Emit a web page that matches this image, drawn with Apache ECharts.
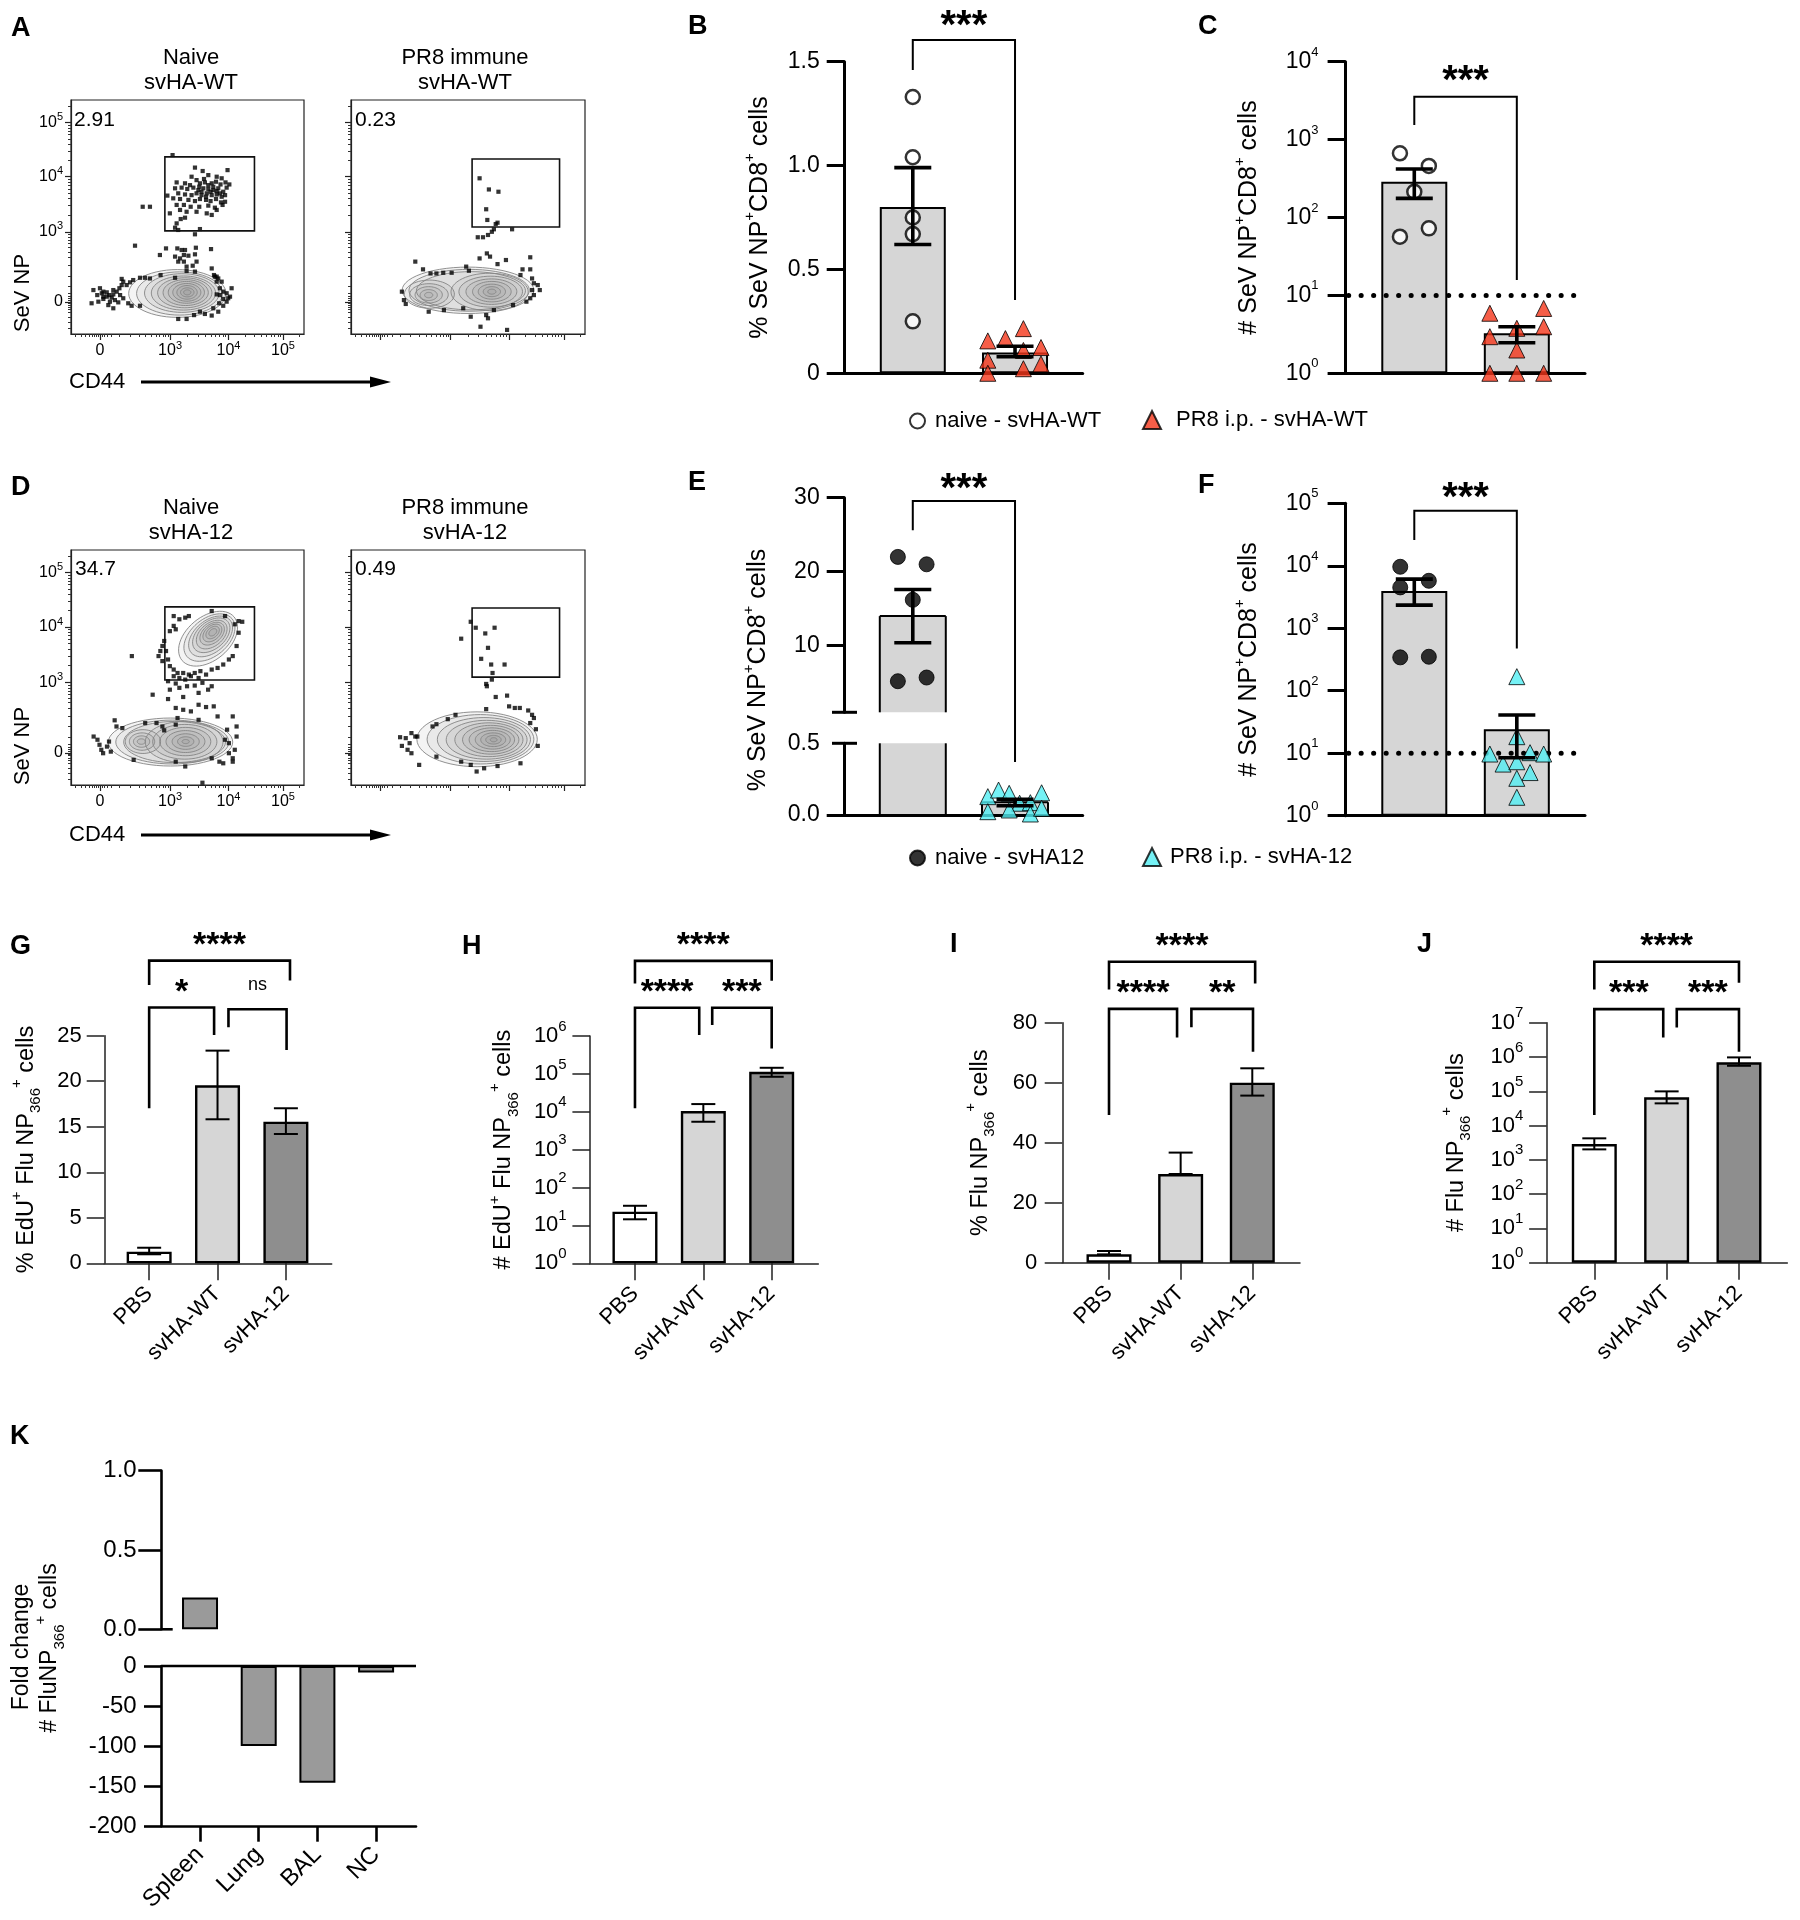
<!DOCTYPE html>
<html>
<head>
<meta charset="utf-8">
<title>Figure</title>
<script src="https://cdn.jsdelivr.net/npm/echarts@6.0.0/dist/echarts.min.js"></script>
<style>
html,body{margin:0;padding:0;background:#fff;}
#chart{width:1800px;height:1920px;}
</style>
</head>
<body>
<div id="chart"></div>
<script>
// ======================= DATA =======================
// ---- Panels A & D : flow cytometry, channel units (0-1030) ----
const flowMajorX = [128, 438, 696, 937];
const flowMajorY = [141, 449, 691, 929];
const flowMajorLabels = ['0', '10{s|3}', '10{s|4}', '10{s|5}'];
const flowMinorX = [20,45,65,80,92,103,112,120,136,145,160,180,215,260,300,330,355,375,392,406,418,428,516,561,594,619,639,656,671,684,769,811,841,864,884,900,914,926,1010];
const flowMinorY = [25,50,75,95,108,118,128,134,148,155,165,180,210,255,300,335,360,380,398,412,425,437,522,564,595,618,637,653,667,680,763,805,834,857,876,892,906,918,1001];
const flowTitles = ['Naive\nsvHA-WT', 'PR8 immune\nsvHA-WT', 'Naive\nsvHA-12', 'PR8 immune\nsvHA-12'];
const flowPercents = ['2.91', '0.23', '34.7', '0.49'];
const flowAxisX = 'CD44';
const flowAxisY = 'SeV NP';

const A_naive_gate = [415, 453, 811, 778];
const A_pr8_gate = [533, 470, 918, 769];
const D_naive_gate = [415, 459, 811, 779];
const D_pr8_gate = [533, 472, 918, 774];

const A_naive_events = [[449,786],[548,731],[582,716],[692,720],[607,698],[644,691],[666,684],[533,691],[555,676],[467,666],[504,662],[526,654],[570,662],[592,666],[622,662],[641,669],[661,657],[683,666],[700,657],[460,640],[489,643],[514,637],[541,643],[563,632],[585,640],[607,637],[629,632],[651,640],[673,625],[688,643],[474,618],[504,613],[533,610],[555,618],[577,610],[600,618],[622,610],[644,613],[666,603],[681,610],[426,608],[452,596],[482,593],[519,589],[548,584],[570,593],[597,589],[617,584],[641,593],[663,578],[681,581],[467,567],[499,567],[529,559],[567,559],[607,564],[636,555],[670,567],[437,530],[482,545],[511,537],[555,537],[600,530],[622,523],[644,545],[467,486],[485,505],[504,511],[460,467],[474,457],[570,461],[548,438],[577,625],[607,654],[629,647],[597,603],[617,625],[567,647],[644,628],[588,681],[658,618],
[317,559],[349,559],[283,388],[420,376],[470,376],[489,369],[504,369],[552,379],[619,373],[393,347],[460,340],[482,332],[499,347],[519,344],[548,350],[474,318],[499,318],[555,318],[511,296],[538,300],[622,288],[396,259],[460,247],[511,277],[548,274],[632,259],[644,252],[651,244],
[99,193],[128,201],[143,186],[158,183],[169,171],[180,160],[187,174],[202,186],[214,201],[224,215],[231,230],[246,215],[261,227],[275,237],[305,247],[327,247],[349,244],[217,171],[194,149],[172,142],[143,154],[116,171],[91,135],[165,127],[209,139],[231,157],[253,135],[268,124],[305,124],[187,113],[224,242],[143,164],[121,142],[158,164],[187,193],[136,179],
[636,252],[644,230],[658,201],[673,186],[688,179],[703,164],[710,201],[658,171],[673,154],[688,142],[655,135],[673,124],[695,157],[644,174],[666,230],
[474,66],[511,66],[544,83],[592,88],[622,81],[629,113],[651,98],[570,98]];
const A_naive_contours = [[470,178,215,105,0],[480,178,190,95,0],[490,180,165,85,0],[497,180,142,75,0],[503,181,120,66,0],[507,182,100,57,0],[510,183,80,48,0],[512,183,62,39,0],[513,183,45,30,0],[514,183,30,20,0],[514,183,16,11,0]];

const A_pr8_events = [[566,684],[607,635],[649,625],[595,548],[600,501],[645,489],[637,483],[558,425],[581,425],[603,435],[620,449],[629,460],[709,460],[598,354],[566,332],[612,340],[682,325],[789,337],[645,307],[755,284],[789,284],[283,318],[317,284],[350,266],[376,266],[406,269],[443,269],[507,296],[519,278],[746,259],[797,244],[805,223],[822,215],[797,193],[805,171],[789,157],[831,193],[224,186],[233,149],[241,132],[342,98],[409,105],[494,113],[527,76],[595,83],[629,105],[713,127],[772,142],[570,32],[687,18],[603,69]];
const A_pr8_contours = [[515,192,290,102,0],[520,192,265,92,0],[528,190,240,84,0],[345,175,110,62,0],[343,173,85,48,0],[342,172,60,36,0],[342,171,38,24,0],[342,171,18,12,0],[610,185,170,82,0],[615,186,140,68,0],[618,186,112,56,0],[620,186,85,45,0],[620,186,60,33,0],[620,186,38,22,0],[620,186,18,11,0]];

const D_naive_events = [[454,739],[479,725],[505,732],[521,739],[454,696],[437,673],[463,681],[412,630],[404,608],[395,586],[420,586],[387,564],[429,549],[404,542],[437,520],[454,505],[471,490],[496,490],[521,483],[547,490],[572,498],[597,483],[622,505],[648,512],[673,527],[698,549],[715,564],[732,608],[741,666],[724,703],[741,717],[757,714],[622,761],[681,739],[454,476],[479,468],[505,461],[530,476],[564,468],[429,454],[463,444],[437,417],[479,425],[513,432],[547,435],[581,447],[606,417],[622,432],[429,376],[496,385],[564,403],[269,564],[361,395],[463,337],[496,329],[530,322],[564,351],[597,341],[631,344],[471,293],[564,285],[463,264],[648,300],[715,300],[732,256],[690,242],[681,198],[698,183],[732,212],[724,154],[698,139],[715,102],[673,95],[656,102],[193,283],[201,256],[227,249],[328,271],[378,271],[404,256],[412,239],[100,212],[117,198],[126,176],[134,154],[142,139],[159,168],[168,190],[176,146],[277,110],[463,102],[505,81],[581,10],[715,117],[622,117]];
const D_naive_contours = [[606,640,150,95,40],[612,645,130,82,40],[617,650,112,70,40],[620,655,95,60,40],[622,658,78,50,40],[624,662,62,40,40],[625,665,48,31,40],[626,667,34,22,40],[627,668,20,13,40],[440,188,275,105,0],[448,188,250,96,0],[458,188,225,90,0],[318,190,78,52,0],[314,190,56,38,0],[312,190,36,25,0],[311,190,18,12,0],[500,188,172,90,0],[503,189,142,76,0],[505,190,113,62,0],[506,190,86,48,0],[507,190,60,34,0],[507,190,36,21,0],[507,190,16,9,0]];

const D_pr8_events = [[527,714],[549,688],[591,663],[632,688],[485,640],[603,600],[573,552],[617,527],[676,527],[623,490],[620,461],[595,442],[598,432],[637,385],[687,391],[595,332],[696,344],[721,337],[743,337],[780,326],[797,307],[805,293],[789,271],[814,244],[822,171],[426,288],[460,307],[376,266],[359,256],[266,227],[283,212],[241,205],[216,209],[258,183],[224,171],[249,154],[266,139],[300,88],[376,124],[485,102],[527,88],[553,59],[586,73],[645,83],[746,95],[292,212]];
const D_pr8_contours = [[555,200,265,120,0],[570,200,235,108,0],[585,199,205,96,0],[597,198,178,85,0],[607,198,150,74,0],[615,198,124,63,0],[620,198,100,52,0],[624,198,77,41,0],[626,198,55,30,0],[627,198,34,19,0],[628,198,15,9,0]];

// ---- Panels B, C, E, F ----
const groupsWT = ['naive - svHA-WT', 'PR8 i.p. - svHA-WT'];
const groups12 = ['naive - svHA12', 'PR8 i.p. - svHA-12'];

const B_mean = [0.80, 0.10];
const B_sem = [[0, 0.62, 0.99], [1, 0.08, 0.13]];
const B_naive = [1.33, 1.04, 0.75, 0.67, 0.25];
const B_naive_jitter = [0, 0, 0, 0, 0];
const B_pr8 = [0.156, 0.167, 0.215, 0.124, 0.063, 0.110, 0.045, 0.022, 0.0];
const B_pr8_jitter = [-0.266, -0.094, 0.082, 0.254, -0.266, 0.082, 0.254, 0.082, -0.266];
const B_sig = [[0, 1, 1.605, 1.46, 0.353]];
const B_sigLabel = ['***'];

const C_mean = [288, 3.26];
const C_sem = [[0, 176, 420], [1, 2.47, 3.96]];
const C_naive = [667, 459, 214, 56.7, 72.6];
const C_naive_jitter = [-0.14, 0.142, 0, -0.14, 0.142];
const C_pr8 = [5.9, 6.8, 3.96, 2.95, 3.78, 1.99, 1.0, 1.0, 1.0];
const C_pr8_jitter = [-0.263, 0.262, 0.262, -0.263, 0, 0, -0.263, 0, 0.262];
const C_limit = [[1.607, 10]];
const C_sig = [[0, 1, 3556, 1538, 15.8]];
const C_sigLabel = ['***'];

const E_mean = [14.0, 0.089];
const E_sem = [[0, 10.4, 17.6], [1, 0.065, 0.11]];
const E_naive = [22.0, 21.0, 16.2, 5.2, 5.7];
const E_naive_jitter = [-0.146, 0.135, 0, -0.146, 0.135];
const E_pr8 = [0.128, 0.174, 0.151, 0.155, 0.082, 0.086, 0.023, 0.035, 0.007, 0.047];
const E_pr8_jitter = [-0.266, -0.161, -0.057, 0.26, 0.045, 0.15, -0.266, -0.057, 0.15, 0.26];
const E_sig = [[0, 1, 29.55, 25.6, -5.7]];
const E_sigLabel = ['***'];

const F_mean = [3940, 24.1];
const F_sem = [[0, 2350, 6120], [1, 8.47, 40.8]];
const F_naive = [9640, 4510, 5750, 342, 350];
const F_naive_jitter = [-0.137, -0.137, 0.142, -0.137, 0.142];
const F_pr8 = [168, 18.4, 9.7, 10.2, 9.7, 6.7, 7.3, 4.9, 3.96, 1.97];
const F_pr8_jitter = [0, 0, -0.263, 0.129, 0.262, -0.134, 0, 0.129, 0, 0];
const F_limit = [[1.607, 10]];
const F_sig = [[0, 1, 75900, 25760, 476]];
const F_sigLabel = ['***'];

// ---- Panels G - J ----
const treatments = ['PBS', 'svHA-WT', 'svHA-12'];
const treatmentColors = ['#ffffff', '#d6d6d6', '#8e8e8e'];
const G_mean = [1.28, 19.56, 15.56];
const G_sem = [[0, 0.99, 1.71], [1, 15.82, 23.36], [2, 14.2, 17.03]];
const G_sig = [[0, 2.06, 33.25, 30.58, 31.05], [0, 0.95, 28.09, 17.03, 25.09], [1.16, 2.01, 27.91, 25.93, 23.44]];
const G_sigLabel = ['****', '*', 'ns'];

const H_mean = [23, 10400, 113700];
const H_sem = [[0, 14.5, 33], [1, 5450, 15960], [2, 83900, 144900]];
const H_sig = [[0, 2, 9.64e7, 2.44e7, 2.86e7], [0, 0.94, 5.55e6, 12300, 1.057e6], [1.13, 2, 5.55e6, 1.94e6, 4.71e5]];
const H_sigLabel = ['****', '****', '***'];

const I_mean = [2.78, 29.56, 60.0];
const I_sem = [[0, 2.78, 3.9], [1, 29.56, 36.7], [2, 55.7, 64.8]];
const I_sig = [[0, 2.04, 100.3, 91.1, 93.1], [0, 0.95, 84.6, 49.2, 75.1], [1.15, 2.01, 84.6, 78.5, 70.3]];
const I_sigLabel = ['****', '****', '**'];

const J_mean = [2890, 66400, 697000];
const J_sem = [[0, 2020, 4240], [1, 44400, 99300], [2, 554000, 973000]];
const J_sig = [[0, 2, 5.97e8, 9.35e7, 1.455e8], [0, 0.953, 2.495e7, 20230, 3.72e6], [1.14, 2, 2.495e7, 7.29e6, 1.42e6]];
const J_sigLabel = ['****', '***', '***'];

// ---- Panel K ----
const tissues = ['Spleen', 'Lung', 'BAL', 'NC'];
const K_fold = [0.2, -100, -146, -8];

// ======================= BUILD =======================
const FONT = '"Liberation Sans", Arial, Helvetica, sans-serif';
const grids = [], xAxes = [], yAxes = [], series = [];
function addGrid(g) { grids.push(Object.assign({outerBoundsMode: 'none', containLabel: false, show: false}, g)); return grids.length - 1; }
function addX(a) { xAxes.push(a); return xAxes.length - 1; }
function addY(a) { yAxes.push(a); return yAxes.length - 1; }
const supRich = (fs) => ({s: {fontSize: fs, verticalAlign: 'top', fontFamily: FONT, color: '#000'}});
const nameRich = (fs) => ({
  p: {fontSize: fs, verticalAlign: 'top', fontFamily: FONT, color: '#000'},
  d: {fontSize: fs, verticalAlign: 'bottom', fontFamily: FONT, color: '#000'}
});
const logFmt = v => '10{s|' + Math.round(Math.log10(v)) + '}';

// ---------- helpers for series ----------
function ellipseSeries(xi, yi, data) {
  series.push({type: 'custom', xAxisIndex: xi, yAxisIndex: yi, z: 2, silent: true, clip: true, data: data,
    renderItem: function (params, api) {
      const c = api.coord([api.value(0), api.value(1)]);
      const s = api.size([api.value(2), api.value(3)]);
      const rot = (api.value(4) || 0) * Math.PI / 180;
      const pts = [];
      for (let k = 0; k < 56; k++) {
        const t = k / 56 * Math.PI * 2;
        const ex = s[0] * Math.cos(t), ey = s[1] * Math.sin(t);
        pts.push([c[0] + ex * Math.cos(rot) + ey * Math.sin(rot), c[1] - ex * Math.sin(rot) + ey * Math.cos(rot)]);
      }
      return {type: 'polygon', shape: {points: pts}, style: {fill: 'rgba(120,120,120,0.08)', stroke: '#858585', lineWidth: 0.9}};
    }});
}
function gateSeries(xi, yi, gate) {
  series.push({type: 'custom', xAxisIndex: xi, yAxisIndex: yi, z: 4, silent: true, clip: false, data: [gate],
    renderItem: function (params, api) {
      const p1 = api.coord([api.value(0), api.value(3)]);
      const p2 = api.coord([api.value(2), api.value(1)]);
      return {type: 'rect', shape: {x: p1[0], y: p1[1], width: p2[0] - p1[0], height: p2[1] - p1[1]},
        style: {fill: 'none', stroke: '#111', lineWidth: 1.6}};
    }});
}
function errSeries(xi, yi, data, capW, lw, clip) {
  series.push({type: 'custom', xAxisIndex: xi, yAxisIndex: yi, z: 5, silent: true, clip: !!clip, data: data,
    renderItem: function (params, api) {
      const x = api.value(0), lo = api.value(1), hi = api.value(2);
      const a = api.coord([x, hi]), b = api.coord([x, lo]);
      const h = capW / 2, st = {stroke: '#000', lineWidth: lw};
      return {type: 'group', children: [
        {type: 'line', shape: {x1: a[0], y1: a[1], x2: b[0], y2: b[1]}, style: st},
        {type: 'line', shape: {x1: a[0] - h, y1: a[1], x2: a[0] + h, y2: a[1]}, style: st},
        {type: 'line', shape: {x1: b[0] - h, y1: b[1], x2: b[0] + h, y2: b[1]}, style: st}
      ]};
    }});
}
function bracketSeries(xi, yi, rows, labels, lw, starFs, above) {
  series.push({type: 'custom', xAxisIndex: xi, yAxisIndex: yi, z: 6, silent: true, clip: false, data: rows,
    renderItem: function (params, api) {
      const x1 = api.value(0), x2 = api.value(1), yt = api.value(2), yl = api.value(3), yr = api.value(4);
      const a = api.coord([x1, yl]), b = api.coord([x1, yt]), c = api.coord([x2, yt]), d = api.coord([x2, yr]);
      const lab = labels[params.dataIndex];
      const star = lab.indexOf('*') >= 0;
      const fs = star ? starFs : 18;
      const ty = b[1] - above + (star ? 0.21 * fs : -0.09 * fs);
      return {type: 'group', children: [
        {type: 'polyline', shape: {points: [a, b, c, d]}, style: {stroke: '#000', lineWidth: lw, fill: 'none'}},
        {type: 'text', x: (b[0] + c[0]) / 2, y: ty, style: {text: lab, fontSize: fs, fontWeight: star ? 'bold' : 'normal',
          fontFamily: FONT, fill: '#000', align: 'center', verticalAlign: 'middle'}}
      ]};
    }});
}
function hMarkSeries(xi, yi, yVals, leftLen, rightLen, lw) {
  series.push({type: 'custom', xAxisIndex: xi, yAxisIndex: yi, z: 6, silent: true, clip: false,
    data: yVals.map(v => [0, v]),
    renderItem: function (params, api) {
      const cs = params.coordSys;
      const y = api.coord([0, api.value(1)])[1];
      const r = rightLen < 0 ? cs.width : rightLen;
      return {type: 'line', shape: {x1: cs.x - leftLen, y1: y, x2: cs.x + r, y2: y}, style: {stroke: '#000', lineWidth: lw}};
    }});
}
function limitSeries(xi, yi, data) {
  series.push({type: 'custom', xAxisIndex: xi, yAxisIndex: yi, z: 3, silent: true, clip: false, data: data,
    renderItem: function (params, api) {
      const cs = params.coordSys;
      const p = api.coord([api.value(0), api.value(1)]);
      return {type: 'line', shape: {x1: cs.x + 3, y1: p[1], x2: p[0], y2: p[1]},
        style: {stroke: '#000', lineWidth: 5, lineDash: [0.1, 12.4], lineCap: 'round'}};
    }});
}
function barSeries(xi, yi, xs, vals, colors, width, bw) {
  series.push({type: 'bar', xAxisIndex: xi, yAxisIndex: yi, barWidth: width, z: 2, silent: true, clip: true,
    data: xs.map((x, i) => ({value: [x, vals[i]], itemStyle: {color: colors[i]}})),
    itemStyle: {borderColor: '#000', borderWidth: bw}});
}
// bars on a broken axis: the side cut by the break stays open
function brokenBarSeries(xi, yi, xs, vals, color, width, bw) {
  series.push({type: 'custom', xAxisIndex: xi, yAxisIndex: yi, z: 2, silent: true, clip: false,
    data: xs.map((x, i) => [x, vals[i]]),
    renderItem: function (params, api) {
      const cs = params.coordSys;
      const x = api.value(0), v = api.value(1);
      const pt = api.coord([x, v]), pb = api.coord([x, 0]);
      const y0 = cs.y, y1 = cs.y + cs.height;
      const yt = Math.max(Math.min(pt[1], y1), y0), yb = Math.max(Math.min(pb[1], y1), y0);
      if (yb - yt < 0.5) return null;
      const xl = pt[0] - width / 2, xr = pt[0] + width / 2;
      const st = {stroke: '#000', lineWidth: bw};
      const ch = [{type: 'rect', shape: {x: xl, y: yt, width: width, height: yb - yt}, style: {fill: color}},
        {type: 'line', shape: {x1: xl, y1: yt, x2: xl, y2: yb}, style: st},
        {type: 'line', shape: {x1: xr, y1: yt, x2: xr, y2: yb}, style: st}];
      if (pt[1] >= y0) ch.push({type: 'line', shape: {x1: xl, y1: yt, x2: xr, y2: yt}, style: st});
      if (pb[1] <= y1) ch.push({type: 'line', shape: {x1: xl, y1: yb, x2: xr, y2: yb}, style: st});
      return {type: 'group', children: ch};
    }});
}
function pointSeries(xi, yi, name, xc, vals, jit, symbol, size, style) {
  series.push({type: 'scatter', name: name, xAxisIndex: xi, yAxisIndex: yi, z: 4, silent: true, clip: false,
    symbol: symbol, symbolSize: size, data: vals.map((v, i) => [xc + jit[i], v]), itemStyle: style});
}

// ---------- flow panels ----------
function flowPanel(box, events, contours, gate, showLabels) {
  const gi = addGrid(Object.assign({show: true, borderColor: '#222', borderWidth: 1.2, backgroundColor: 'transparent'}, box));
  const line = {show: true, onZero: false, lineStyle: {color: '#222', width: 1.2}};
  const lab = {show: showLabels, fontSize: 16, color: '#000', lineHeight: 22, rich: supRich(11)};
  const xi = addX({type: 'value', gridIndex: gi, min: 0, max: 1030, position: 'bottom', axisLine: line,
    axisTick: {show: true, customValues: flowMajorX, length: 6, lineStyle: {color: '#222', width: 1.2}},
    axisLabel: Object.assign({}, lab, {customValues: flowMajorX, margin: 6,
      formatter: v => flowMajorLabels[flowMajorX.indexOf(v)]}), splitLine: {show: false}});
  addX({type: 'value', gridIndex: gi, min: 0, max: 1030, position: 'bottom', axisLine: {show: false},
    axisTick: {show: true, customValues: flowMinorX, length: 3, lineStyle: {color: '#333', width: 1}},
    axisLabel: {show: false}, splitLine: {show: false}});
  const yi = addY({type: 'value', gridIndex: gi, min: 0, max: 1028, position: 'left', axisLine: line,
    axisTick: {show: true, customValues: flowMajorY, length: 6, lineStyle: {color: '#222', width: 1.2}},
    axisLabel: Object.assign({}, lab, {customValues: flowMajorY, margin: 8,
      formatter: v => flowMajorLabels[flowMajorY.indexOf(v)]}), splitLine: {show: false}});
  addY({type: 'value', gridIndex: gi, min: 0, max: 1028, position: 'left', axisLine: {show: false},
    axisTick: {show: true, customValues: flowMinorY, length: 3, lineStyle: {color: '#333', width: 1}},
    axisLabel: {show: false}, splitLine: {show: false}});
  ellipseSeries(xi, yi, contours);
  series.push({type: 'scatter', xAxisIndex: xi, yAxisIndex: yi, z: 3, silent: true, clip: true, data: events,
    symbol: 'rect', symbolSize: 4.2, itemStyle: {color: '#000'}});
  gateSeries(xi, yi, gate);
}
flowPanel({left: 71, top: 100, width: 233, height: 234}, A_naive_events, A_naive_contours, A_naive_gate, true);
flowPanel({left: 351, top: 100, width: 234, height: 234}, A_pr8_events, A_pr8_contours, A_pr8_gate, false);
flowPanel({left: 71, top: 550, width: 233, height: 235}, D_naive_events, D_naive_contours, D_naive_gate, true);
flowPanel({left: 351, top: 550, width: 234, height: 235}, D_pr8_events, D_pr8_contours, D_pr8_gate, false);

// ---------- generic bar-panel axes ----------
function xValAxis(gi, min, max, o) {
  o = o || {};
  return addX({type: 'value', gridIndex: gi, min: min, max: max, position: 'bottom', show: o.show !== false,
    axisLine: {show: true, onZero: false, lineStyle: {color: o.color || '#000', width: o.lw || 3}},
    axisTick: {show: !!o.ticks, customValues: o.ticks, length: o.tickLen || 16, lineStyle: {color: o.color || '#000', width: o.lw || 3}},
    axisLabel: {show: !!o.names, customValues: o.ticks, rotate: 45, fontSize: o.fs || 22, color: '#000', margin: o.margin || 22,
      formatter: v => (o.names ? o.names[Math.round(v)] : '')},
    splitLine: {show: false}});
}
function yAxisDef(gi, o) {
  const a = {type: o.log ? 'log' : 'value', gridIndex: gi, min: o.min, max: o.max, position: 'left',
    axisLine: {show: true, onZero: false, lineStyle: {color: o.color || '#000', width: o.lw}},
    axisTick: {show: true, length: o.tickLen, lineStyle: {color: o.color || '#000', width: o.lw}},
    axisLabel: {show: true, fontSize: o.fs, color: '#000', margin: o.margin, lineHeight: o.lh || 30,
      formatter: o.fmt, rich: supRich(o.supFs || 13)},
    splitLine: {show: false}};
  if (o.log) a.logBase = 10;
  if (o.interval !== undefined) a.interval = o.interval;
  if (o.tickValues) a.axisTick.customValues = o.tickValues;
  if (o.labelValues) a.axisLabel.customValues = o.labelValues;
  if (o.name) {
    a.name = o.name; a.nameLocation = 'middle'; a.nameRotate = 90; a.nameGap = o.nameGap;
    a.nameTextStyle = {fontSize: o.nfs, color: '#000', fontFamily: FONT, lineHeight: 34, rich: nameRich(o.nsup || 15)};
  }
  return addY(a);
}

// ---------- Panel B ----------
(function () {
  const gi = addGrid({left: 844.7, top: 61.7, width: 238, height: 311.6});
  const xi = xValAxis(gi, -0.666, 1.662);
  const yi = yAxisDef(gi, {min: 0, max: 1.5, interval: 0.5, lw: 3, tickLen: 18, fs: 23, margin: 25,
    fmt: v => (v === 0 ? '0' : v.toFixed(1)), name: '% SeV NP{p|+}CD8{p|+} cells', nameGap: 68, nfs: 25});
  barSeries(xi, yi, [0, 1], B_mean, ['#d6d6d6', '#d6d6d6'], 66, 2);
  pointSeries(xi, yi, groupsWT[0], 0, B_naive, B_naive_jitter, 'circle', 14, {color: '#fff', borderColor: '#000', borderWidth: 2.5});
  pointSeries(xi, yi, groupsWT[1], 1, B_pr8, B_pr8_jitter, 'triangle', 16, {color: '#f4361a', borderColor: '#000', borderWidth: 1});
  errSeries(xi, yi, B_sem, 37, 3.6);
  bracketSeries(xi, yi, B_sig, B_sigLabel, 2, 40, 21);
})();

// ---------- Panel C ----------
(function () {
  const gi = addGrid({left: 1345.6, top: 61.7, width: 239.4, height: 311.6});
  const xi = xValAxis(gi, -0.670, 1.665);
  const yi = yAxisDef(gi, {log: true, min: 1, max: 1e4, lw: 3, tickLen: 18, fs: 23, margin: 27, lh: 32, supFs: 13,
    tickValues: [1, 10, 100, 1000, 10000], labelValues: [1, 10, 100, 1000, 10000], fmt: logFmt,
    name: '# SeV NP{p|+}CD8{p|+} cells', nameGap: 79, nfs: 25});
  barSeries(xi, yi, [0, 1], C_mean, ['#d6d6d6', '#d6d6d6'], 66, 2);
  limitSeries(xi, yi, C_limit);
  pointSeries(xi, yi, groupsWT[0], 0, C_naive, C_naive_jitter, 'circle', 14, {color: '#fff', borderColor: '#000', borderWidth: 2.5});
  pointSeries(xi, yi, groupsWT[1], 1, C_pr8, C_pr8_jitter, 'triangle', 16, {color: '#f4361a', borderColor: '#000', borderWidth: 1});
  errSeries(xi, yi, C_sem, 37, 3.6);
  bracketSeries(xi, yi, C_sig, C_sigLabel, 2, 40, 23);
})();

// ---------- Panel E (broken axis) ----------
(function () {
  const gu = addGrid({left: 844.7, top: 497.7, width: 238, height: 214.6});
  const xu = xValAxis(gu, -0.666, 1.662, {show: false});
  const yu = yAxisDef(gu, {min: 1, max: 30, lw: 3, tickLen: 18, fs: 23, margin: 25,
    tickValues: [10, 20, 30], labelValues: [10, 20, 30], fmt: v => String(v)});
  const gl = addGrid({left: 844.7, top: 743.3, width: 238, height: 71.7});
  const xl = xValAxis(gl, -0.666, 1.662);
  const yl = yAxisDef(gl, {min: 0, max: 0.5, lw: 3, tickLen: 18, fs: 23, margin: 25,
    tickValues: [0], labelValues: [0, 0.5], fmt: v => v.toFixed(1)});
  brokenBarSeries(xu, yu, [0, 1], E_mean, '#d6d6d6', 66, 2);
  brokenBarSeries(xl, yl, [0, 1], E_mean, '#d6d6d6', 66, 2);
  pointSeries(xu, yu, groups12[0], 0, E_naive, E_naive_jitter, 'circle', 15, {color: '#000', borderColor: '#000', borderWidth: 1});
  pointSeries(xl, yl, groups12[1], 1, E_pr8, E_pr8_jitter, 'triangle', 16, {color: '#52eef2', borderColor: '#000', borderWidth: 1});
  errSeries(xu, yu, E_sem, 37, 3.6, true);
  errSeries(xl, yl, E_sem, 37, 3.6, true);
  hMarkSeries(xu, yu, [1], 12.7, 12.3, 3);
  hMarkSeries(xl, yl, [0.5], 12.7, 12.3, 3);
  bracketSeries(xu, yu, E_sig, E_sigLabel, 2, 40, 19.5);
})();

// ---------- Panel F ----------
(function () {
  const gi = addGrid({left: 1345.6, top: 503.3, width: 239.4, height: 312.4});
  const xi = xValAxis(gi, -0.670, 1.665);
  const yi = yAxisDef(gi, {log: true, min: 1, max: 1e5, lw: 3, tickLen: 18, fs: 23, margin: 27, lh: 32, supFs: 13,
    tickValues: [1, 10, 100, 1000, 1e4, 1e5], labelValues: [1, 10, 100, 1000, 1e4, 1e5], fmt: logFmt,
    name: '# SeV NP{p|+}CD8{p|+} cells', nameGap: 79, nfs: 25});
  barSeries(xi, yi, [0, 1], F_mean, ['#d6d6d6', '#d6d6d6'], 66, 2);
  limitSeries(xi, yi, F_limit);
  pointSeries(xi, yi, groups12[0], 0, F_naive, F_naive_jitter, 'circle', 15, {color: '#000', borderColor: '#000', borderWidth: 1});
  pointSeries(xi, yi, groups12[1], 1, F_pr8, F_pr8_jitter, 'triangle', 16, {color: '#52eef2', borderColor: '#000', borderWidth: 1});
  errSeries(xi, yi, F_sem, 37, 3.6);
  bracketSeries(xi, yi, F_sig, F_sigLabel, 2, 40, 20.7);
})();

// ---------- Panels G - J ----------
function treatPanel(box, xmin, xmax, yo, mean, sem, sig, sigLabel) {
  const gi = addGrid(box);
  const xi = xValAxis(gi, xmin, xmax, {ticks: [0, 1, 2], names: treatments, color: '#222', lw: 1.5, tickLen: 17, fs: 22, margin: 27});
  const yi = yAxisDef(gi, Object.assign({lw: 1.5, color: '#222', tickLen: 17.6, fs: 22, nfs: 23.5, nsup: 15}, yo));
  barSeries(xi, yi, [0, 1, 2], mean, treatmentColors, 45, 2.4);
  errSeries(xi, yi, sem, 24, 2);
  bracketSeries(xi, yi, sig, sigLabel, 2.6, 34, 22.2);
}
treatPanel({left: 104.3, top: 1035.7, width: 227.4, height: 227.6}, -0.656, 2.67,
  {min: 0, max: 25, interval: 5, margin: 22.6, fmt: v => String(v), name: '% EdU{p|+} Flu NP{d|366}{p|+} cells', nameGap: 61},
  G_mean, G_sem, G_sig, G_sigLabel);
treatPanel({left: 590, top: 1036, width: 228.3, height: 227.3}, -0.658, 2.682,
  {log: true, min: 1, max: 1e6, margin: 23.3, lh: 34, supFs: 15, fmt: logFmt,
   tickValues: [1, 10, 100, 1e3, 1e4, 1e5, 1e6], labelValues: [1, 10, 100, 1e3, 1e4, 1e5, 1e6],
   name: '# EdU{p|+} Flu NP{d|366}{p|+} cells', nameGap: 69},
  H_mean, H_sem, H_sig, H_sigLabel);
treatPanel({left: 1062.3, top: 1022.7, width: 237.7, height: 240}, -0.652, 2.666,
  {min: 0, max: 80, interval: 20, margin: 25, fmt: v => String(v), name: '% Flu NP{d|366}{p|+} cells', nameGap: 65},
  I_mean, I_sem, I_sig, I_sigLabel);
treatPanel({left: 1546.7, top: 1022.7, width: 240.6, height: 240}, -0.658, 2.668,
  {log: true, min: 1, max: 1e7, margin: 23.4, lh: 34, supFs: 15, fmt: logFmt,
   tickValues: [1, 10, 100, 1e3, 1e4, 1e5, 1e6, 1e7], labelValues: [1, 10, 100, 1e3, 1e4, 1e5, 1e6, 1e7],
   name: '# Flu NP{d|366}{p|+} cells', nameGap: 73},
  J_mean, J_sem, J_sig, J_sigLabel);

// ---------- Panel K (broken axis) ----------
(function () {
  const gu = addGrid({left: 161.7, top: 1470.7, width: 254.3, height: 158.6});
  const xu = xValAxis(gu, -0.653, 3.68, {show: false});
  const yu = yAxisDef(gu, {min: 0, max: 1, interval: 0.5, lw: 2.6, tickLen: 23.4, fs: 24, margin: 25, fmt: v => v.toFixed(1)});
  const gl = addGrid({left: 161.7, top: 1666, width: 254.3, height: 160});
  const xl = xValAxis(gl, -0.653, 3.68, {ticks: [0, 1, 2, 3], names: tissues, lw: 2.6, tickLen: 15.7, fs: 24, margin: 25});
  const yl = yAxisDef(gl, {min: -200, max: 0, interval: 50, lw: 2.6, tickLen: 17.7, fs: 24, margin: 25, fmt: v => String(v)});
  const kc = tissues.map(() => '#9a9a9a');
  barSeries(xu, yu, [0, 1, 2, 3], K_fold, kc, 36, 2);
  barSeries(xl, yl, [0, 1, 2, 3], K_fold, kc, 36, 2);
  hMarkSeries(xu, yu, [0], 0, 11, 2.6);
  hMarkSeries(xl, yl, [0], 0, -1, 2.6);
})();

// ---------- graphics: panel letters, titles, flow annotations ----------
const graphics = [];
function txt(t, x, y, o) {
  o = o || {};
  graphics.push({type: 'text', x: x, y: y, rotation: o.rot || 0, silent: true, z: 10,
    style: {text: t, fontSize: o.fs || 22, fontWeight: o.bold ? 'bold' : 'normal', fontFamily: FONT, fill: '#000',
      align: o.align || 'center', verticalAlign: 'middle', lineHeight: o.lh || undefined, rich: o.rich}});
}
[['A', 11, 29], ['B', 688, 27], ['C', 1198, 27], ['D', 11, 488], ['E', 688, 483], ['F', 1198, 486],
 ['G', 10, 947], ['H', 462, 947], ['I', 950, 945], ['J', 1417, 945], ['K', 10, 1437]].forEach(l => txt(l[0], l[1], l[2], {fs: 27, bold: true, align: 'left'}));
txt(flowTitles[0], 191, 70.5, {lh: 25});
txt(flowTitles[1], 465, 70.5, {lh: 25});
txt(flowTitles[2], 191, 520.5, {lh: 25});
txt(flowTitles[3], 465, 520.5, {lh: 25});
txt(flowPercents[0], 74, 120, {fs: 21, align: 'left'});
txt(flowPercents[1], 355, 120, {fs: 21, align: 'left'});
txt(flowPercents[2], 75, 569, {fs: 21, align: 'left'});
txt(flowPercents[3], 355, 569, {fs: 21, align: 'left'});
txt(flowAxisY, 23, 293, {rot: Math.PI / 2});
txt(flowAxisY, 23, 746, {rot: Math.PI / 2});
txt(flowAxisX, 69, 382, {align: 'left'});
txt(flowAxisX, 69, 835, {align: 'left'});
[382, 835].forEach(y => {
  graphics.push({type: 'line', silent: true, shape: {x1: 141, y1: y, x2: 374, y2: y}, style: {stroke: '#000', lineWidth: 3}});
  graphics.push({type: 'polygon', silent: true, shape: {points: [[370, y - 5.5], [391, y], [370, y + 5.5]]}, style: {fill: '#000'}});
});
txt('% SeV NP{p|+}CD8{p|+} cells', 758, 670, {fs: 25, rot: Math.PI / 2, lh: 34, rich: nameRich(15)});
txt('Fold change', 22, 1647, {fs: 23, rot: Math.PI / 2});
txt('# FluNP{d|366}{p|+} cells', 50, 1648, {fs: 23, rot: Math.PI / 2, lh: 34, rich: nameRich(15)});

function legendItem(name, left, top, pad, size) {
  return {data: [name], left: left, top: top, selectedMode: false, itemWidth: size, itemHeight: size, itemGap: 0,
    textStyle: {fontSize: 22, color: '#000', fontFamily: FONT, padding: [0, 0, 0, pad]}};
}

const option = {
  animation: false,
  backgroundColor: '#ffffff',
  textStyle: {fontFamily: FONT, color: '#000'},
  grid: grids, xAxis: xAxes, yAxis: yAxes, series: series,
  legend: [
    legendItem(groupsWT[0], 904, 405, 5, 15),
    legendItem(groupsWT[1], 1137, 404, 10, 18),
    legendItem(groups12[0], 904, 842, 5, 15),
    legendItem(groups12[1], 1137, 841, 4, 18)
  ],
  graphic: graphics
};
const chart = echarts.init(document.getElementById('chart'), null, {renderer: 'canvas', width: 1800, height: 1920});
chart.setOption(option);
</script>
</body>
</html>
